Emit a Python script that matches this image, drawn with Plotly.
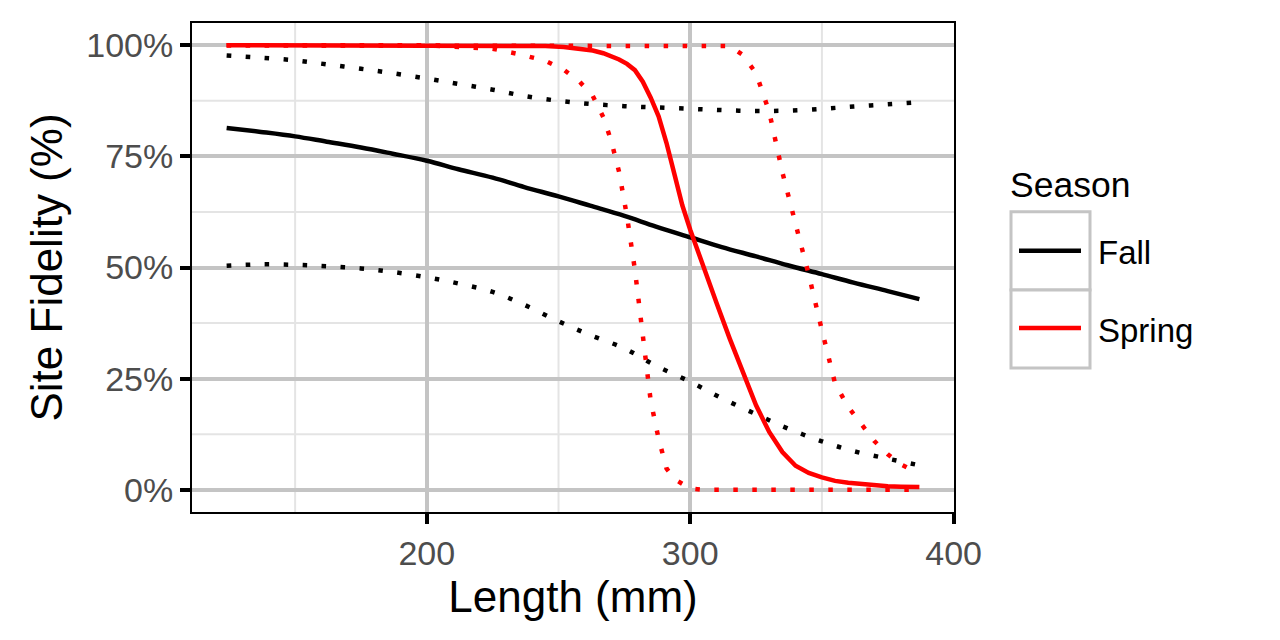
import plotly.graph_objects as go

# Fall: fitted curve with lower / upper bounds
fall_len = [124, 137, 150, 162, 175, 187, 200, 212, 225, 237, 250, 262, 275, 287, 300, 312, 325, 337, 350, 362, 375, 387]
fall_fit = [0.814, 0.805, 0.795, 0.783, 0.770, 0.756, 0.740, 0.721, 0.702, 0.681, 0.660, 0.639, 0.616, 0.592, 0.568, 0.546, 0.525, 0.505, 0.485, 0.466, 0.447, 0.429]
fall_lo = [0.504, 0.507, 0.506, 0.503, 0.498, 0.490, 0.478, 0.464, 0.445, 0.416, 0.379, 0.348, 0.318, 0.279, 0.243, 0.206, 0.170, 0.138, 0.109, 0.087, 0.070, 0.055]
fall_hi = [0.977, 0.972, 0.966, 0.957, 0.947, 0.937, 0.925, 0.913, 0.900, 0.886, 0.875, 0.868, 0.863, 0.860, 0.857, 0.854, 0.852, 0.853, 0.857, 0.862, 0.867, 0.872]

# Spring: fitted curve with lower / upper bounds
spring_len = [124, 150, 175, 200, 225, 235, 245, 252, 258, 263, 267, 270, 273, 276, 279, 282, 285, 288, 291, 294, 297, 300,
              305, 310, 315, 320, 325, 330, 335, 340, 345, 350, 355, 360, 365, 370, 375, 380, 387]
spring_fit = [1.0, 1.0, 1.0, 1.0, 0.9995, 0.999, 0.998, 0.996, 0.993, 0.988, 0.982, 0.976, 0.968, 0.958, 0.944, 0.918, 0.882, 0.840, 0.780, 0.710, 0.640, 0.585,
              0.500, 0.420, 0.340, 0.265, 0.190, 0.130, 0.085, 0.054, 0.038, 0.028, 0.020, 0.016, 0.013, 0.010, 0.008, 0.007, 0.006]
spring_lo = [1.0, 1.0, 1.0, 1.0, 0.992, 0.980, 0.965, 0.945, 0.918, 0.886, 0.838, 0.785, 0.715, 0.615, 0.495, 0.355, 0.200, 0.115, 0.048, 0.024, 0.012, 0.003,
             0.0, 0.0, 0.0, 0.0, 0.0, 0.0, 0.0, 0.0, 0.0, 0.0, 0.0, 0.0, 0.0, 0.0, 0.0, 0.0, 0.0]
spring_hi = [1.0, 1.0, 1.0, 1.0, 1.0, 1.0, 1.0, 1.0, 1.0, 1.0, 1.0, 1.0, 1.0, 1.0, 1.0, 1.0, 1.0, 1.0, 1.0, 1.0, 1.0, 1.0,
             1.0, 1.0, 0.998, 0.978, 0.937, 0.850, 0.714, 0.598, 0.484, 0.359, 0.239, 0.186, 0.146, 0.109, 0.080, 0.057, 0.036]

seasons = ["Fall", "Spring"]
colors = {"Fall": "black", "Spring": "red"}

FONT = "Liberation Sans, Arial, sans-serif"
MAJOR = "#c4c4c4"
MINOR = "#e4e4e4"
LW = 4.5
DOT = "4.5px,14.5px"

fig = go.Figure()

series = [
    ("Fall", fall_len, fall_lo, fall_hi, fall_fit, "spline"),
    ("Spring", spring_len, spring_lo, spring_hi, spring_fit, "linear"),
]
for name, x, lo, hi, fit, shape in series:
    c = colors[name]
    for band in (lo, hi):
        fig.add_trace(go.Scatter(x=x, y=band, mode="lines", showlegend=False,
                                 line=dict(color=c, width=LW, dash=DOT, shape=shape), hoverinfo="skip"))
    fig.add_trace(go.Scatter(x=x, y=fit, mode="lines", name=name, showlegend=False,
                             line=dict(color=c, width=LW, shape=shape)))

# minor gridlines
for v in [150, 250, 350]:
    fig.add_shape(type="line", xref="x", yref="paper", x0=v, x1=v, y0=0, y1=1,
                  line=dict(color=MINOR, width=2), layer="below")
for v in [0.125, 0.375, 0.625, 0.875]:
    fig.add_shape(type="line", xref="paper", yref="y", x0=0, x1=1, y0=v, y1=v,
                  line=dict(color=MINOR, width=2), layer="below")

# hand-drawn legend in the ggplot style (positions in screen pixels -> paper)
def px_x(p):
    return (p - 192) / 762.0

def px_y(p):
    return (512 - p) / 489.0

boxes = [(211.7, 290), (290, 368)]
line_y = [250.7, 328]
label_y = [252, 330]
for i, name in enumerate(seasons):
    t, b = boxes[i]
    fig.add_shape(type="rect", xref="paper", yref="paper",
                  x0=px_x(1011), x1=px_x(1090), y0=px_y(b), y1=px_y(t),
                  line=dict(color=MAJOR, width=3), fillcolor="white", layer="above")
    fig.add_shape(type="line", xref="paper", yref="paper",
                  x0=px_x(1019), x1=px_x(1081), y0=px_y(line_y[i]), y1=px_y(line_y[i]),
                  line=dict(color=colors[name], width=LW), layer="above")
    fig.add_annotation(xref="paper", yref="paper", x=px_x(1096), y=px_y(label_y[i]),
                       text=name, showarrow=False, xanchor="left", yanchor="middle",
                       font=dict(family=FONT, size=33, color="black"))
fig.add_annotation(xref="paper", yref="paper", x=px_x(1008), y=px_y(185),
                   text="Season", showarrow=False, xanchor="left", yanchor="middle",
                   font=dict(family=FONT, size=35.5, color="black"))

axis_common = dict(
    showline=True, linecolor="black", linewidth=2, mirror=True,
    ticks="outside", ticklen=10, tickwidth=4, tickcolor="black",
    tickfont=dict(family=FONT, size=34, color="#4d4d4d"),
    showgrid=True, gridcolor=MAJOR, gridwidth=4, zeroline=False,
)

# page body has an 8px margin, so the figure is offset by 8px
fig.update_layout(
    width=1280, height=640,
    margin=dict(l=184, r=334, t=15, b=136),
    plot_bgcolor="white", paper_bgcolor="white",
    font=dict(family=FONT),
    xaxis=dict(range=[110.85, 400.15], tickvals=[200, 300, 400],
               title=dict(text="Length (mm)", font=dict(family=FONT, size=44, color="black"), standoff=6),
               **axis_common),
    yaxis=dict(range=[-0.05, 1.05], tickvals=[0, 0.25, 0.5, 0.75, 1.0],
               ticktext=["0%", "25%", "50%", "75%", "100%"],
               title=dict(text="Site Fidelity (%)", font=dict(family=FONT, size=44, color="black"), standoff=10),
               **axis_common),
)

fig.write_html("out.html")
